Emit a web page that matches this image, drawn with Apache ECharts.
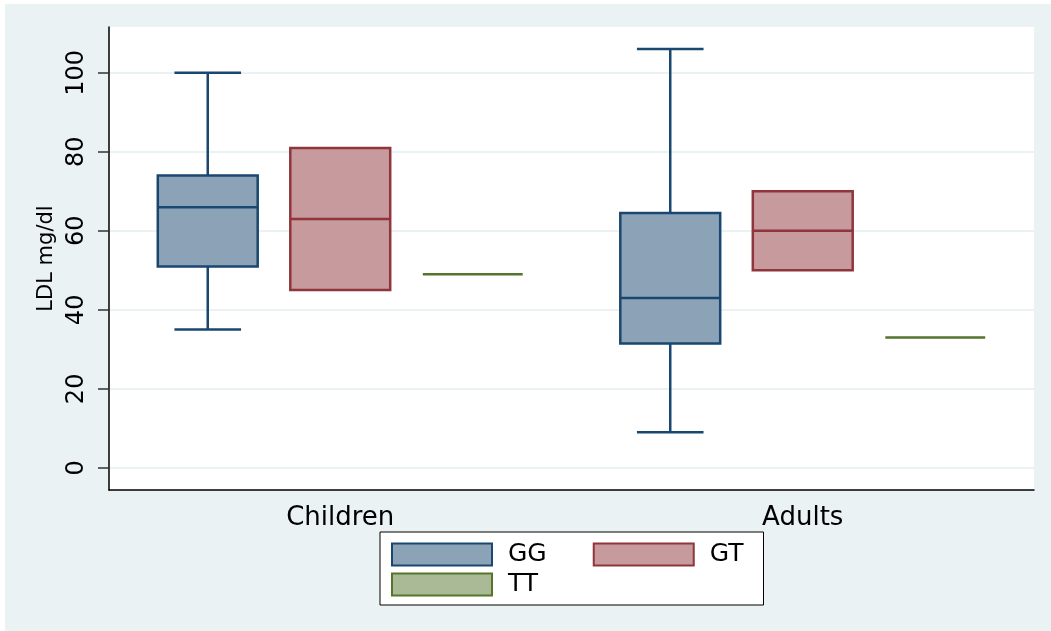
<!DOCTYPE html>
<html><head><meta charset="utf-8">
<script src="https://cdn.jsdelivr.net/npm/echarts@6/dist/echarts.min.js"></script>
<style>
html,body{margin:0;padding:0;background:#fff;}
#c{position:absolute;left:5px;top:4px;width:1046px;height:627px;}
</style></head><body><div id="c"></div>
<script>
const categories = ['Children', 'Adults'];
const groupNames = ['GG', 'GT', 'TT'];
// [min, q1, median, q3, max] per category
const GG = [[35, 51, 66, 74, 100], [9, 31.5, 43, 64.5, 106]];
const GT = [[45, 45, 63, 81, 81], [50, 50, 60, 70, 70]];
const TT = [[49, 49, 49, 49, 49], [33, 33, 33, 33, 33]];
const yTicks = [0, 20, 40, 60, 80, 100];
const yMin = -5.6, yMax = 111.6;

const styles = [
  { stroke: '#1A476F', fill: '#8CA3B7' },
  { stroke: '#90353B', fill: '#C79A9D' },
  { stroke: '#55752F', fill: '#AABA97' }
];

function renderItem(params, api) {
  const cat = api.value(0);
  const band = api.size([1, 0])[0];
  const off = (params.seriesIndex - 1) * band * 0.2865;
  const cx = api.coord([cat, api.value(3)])[0] + off;
  const hw = band * 0.108;
  const cw = band * 0.072;
  const y = v => api.coord([cat, v])[1];
  const yLo = y(api.value(1)), yQ1 = y(api.value(2)), yMed = y(api.value(3)),
        yQ3 = y(api.value(4)), yHi = y(api.value(5));
  const st = styles[params.seriesIndex];
  const ls = { stroke: st.stroke, lineWidth: 2.5 };
  const ch = [];
  if (yHi < yQ3 - 0.5) {
    ch.push({ type: 'line', shape: { x1: cx, y1: yQ3, x2: cx, y2: yHi }, style: ls });
    ch.push({ type: 'line', shape: { x1: cx - cw, y1: yHi, x2: cx + cw, y2: yHi }, style: ls });
  }
  if (yLo > yQ1 + 0.5) {
    ch.push({ type: 'line', shape: { x1: cx, y1: yQ1, x2: cx, y2: yLo }, style: ls });
    ch.push({ type: 'line', shape: { x1: cx - cw, y1: yLo, x2: cx + cw, y2: yLo }, style: ls });
  }
  if (yQ1 - yQ3 > 0.5) {
    ch.push({ type: 'rect', shape: { x: cx - hw, y: yQ3, width: hw * 2, height: yQ1 - yQ3 },
      style: { fill: st.fill, stroke: st.stroke, lineWidth: 2.5 } });
  }
  ch.push({ type: 'line', shape: { x1: cx - hw, y1: yMed, x2: cx + hw, y2: yMed }, style: ls });
  return { type: 'group', children: ch };
}

const seriesData = [GG, GT, TT];
const series = groupNames.map((name, si) => ({
  type: 'custom',
  name: name,
  renderItem: renderItem,
  encode: { x: 0, y: [1, 2, 3, 4, 5] },
  itemStyle: { color: styles[si].fill, borderColor: styles[si].stroke },
  data: seriesData[si].map((d, i) => [i].concat(d))
}));

const legendItem = (name, si) => ({
  name: name,
  itemStyle: { color: styles[si].fill, borderColor: styles[si].stroke, borderWidth: 2 }
});
const legendText = { fontFamily: 'DejaVu Sans', fontSize: 25, color: '#000', lineHeight: 22, padding: [0, 0, 0, 11] };

const chart = echarts.init(document.getElementById('c'));
chart.setOption({
  backgroundColor: '#EAF2F3',
  animation: false,
  textStyle: { fontFamily: 'DejaVu Sans' },
  grid: { left: 104, right: 17, top: 23, bottom: 141, show: true, backgroundColor: '#fff', borderWidth: 0 },
  xAxis: {
    type: 'category',
    data: categories,
    axisTick: { show: false },
    axisLine: { onZero: false, lineStyle: { color: '#000', width: 1.5 } },
    axisLabel: { margin: 15, fontSize: 26, color: '#000', fontFamily: 'DejaVu Sans' },
    splitLine: { show: false }
  },
  yAxis: {
    type: 'value',
    min: yMin,
    max: yMax,
    name: 'LDL mg/dl',
    nameLocation: 'middle',
    nameRotate: 90,
    nameGap: 45,
    nameTextStyle: { fontSize: 21, color: '#000', fontFamily: 'DejaVu Sans' },
    axisLine: { show: true, lineStyle: { color: '#000', width: 1.5 } },
    axisTick: { show: true, length: 11, customValues: yTicks, lineStyle: { color: '#333', width: 1.5 } },
    axisLabel: { customValues: yTicks, rotate: 90, margin: 20, fontSize: 24, color: '#000', fontFamily: 'DejaVu Sans' },
    splitLine: { show: true, lineStyle: { color: '#EAF2F3', width: 2 } }
  },
  legend: [{
    data: [legendItem('GG', 0), legendItem('GT', 1)],
    left: 375, top: 528,
    orient: 'horizontal', icon: 'rect', itemWidth: 100, itemHeight: 22, itemGap: 46,
    padding: [10, 20, 38, 11],
    backgroundColor: '#fff', borderColor: '#000', borderWidth: 1,
    selectedMode: false,
    textStyle: legendText
  }, {
    data: [legendItem('TT', 2)],
    left: 375, top: 558, z: 6,
    orient: 'horizontal', icon: 'rect', itemWidth: 100, itemHeight: 22,
    padding: [10, 0, 0, 11],
    selectedMode: false,
    textStyle: legendText
  }],
  series: series
});
</script></body></html>
